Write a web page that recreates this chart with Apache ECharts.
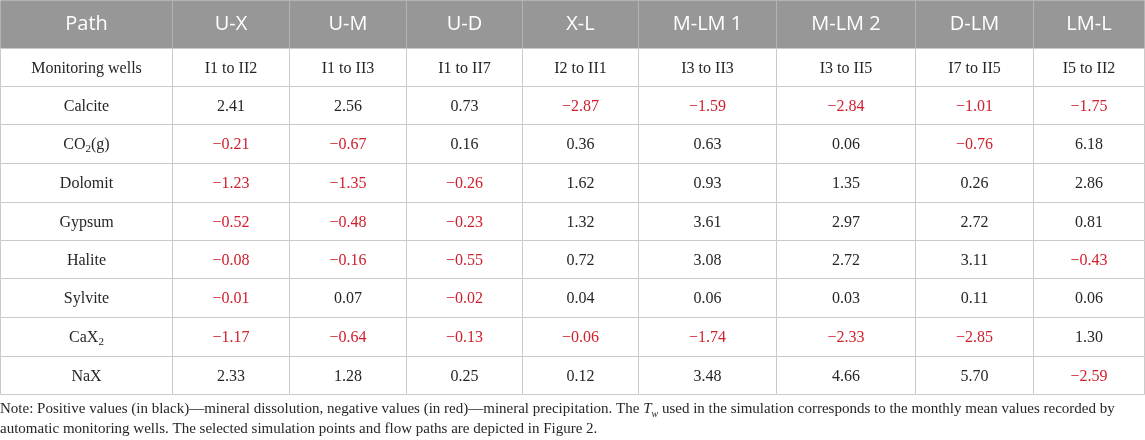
<!DOCTYPE html>
<html>
<head>
<meta charset="utf-8">
<script src="https://cdn.jsdelivr.net/npm/echarts@6/dist/echarts.min.js"></script>
<style>
    html, body { margin: 0; padding: 0; background: #fff; }
    #main { width: 1145px; height: 440px; }
</style>
</head>
<body>
<div id="main"></div>
<script>
// table content
var paths = ['U-X', 'U-M', 'U-D', 'X-L', 'M-LM 1', 'M-LM 2', 'D-LM', 'LM-L'];
var wells = ['I1 to II2', 'I1 to II3', 'I1 to II7', 'I2 to II1', 'I3 to II3', 'I3 to II5', 'I7 to II5', 'I5 to II2'];
var minerals = ['Calcite', 'CO{sub|2}(g)', 'Dolomit', 'Gypsum', 'Halite', 'Sylvite', 'CaX{sub|2}', 'NaX'];

var calcite = [2.41, 2.56, 0.73, -2.87, -1.59, -2.84, -1.01, -1.75];
var co2g = [-0.21, -0.67, 0.16, 0.36, 0.63, 0.06, -0.76, 6.18];
var dolomit = [-1.23, -1.35, -0.26, 1.62, 0.93, 1.35, 0.26, 2.86];
var gypsum = [-0.52, -0.48, -0.23, 1.32, 3.61, 2.97, 2.72, 0.81];
var halite = [-0.08, -0.16, -0.55, 0.72, 3.08, 2.72, 3.11, -0.43];
var sylvite = [-0.01, 0.07, -0.02, 0.04, 0.06, 0.03, 0.11, 0.06];
var cax2 = [-1.17, -0.64, -0.13, -0.06, -1.74, -2.33, -2.85, 1.30];
var nax = [2.33, 1.28, 0.25, 0.12, 3.48, 4.66, 5.70, -2.59];

var mineralRows = [calcite, co2g, dolomit, gypsum, halite, sylvite, cax2, nax];

// layout of the table (relative sizes)
var colWidths = [172, 117, 117, 116, 116, 138, 139, 118, 111];
var rowHeights = [48, 38, 38, 39, 39, 38, 38, 39, 39, 38];

var colEdges = [0];
colWidths.forEach(function (w, i) { colEdges.push(colEdges[i] + w); });
var rowEdges = [0];
rowHeights.forEach(function (h, i) { rowEdges.push(rowEdges[i] + h); });

var fmt = function (v) {
    var s = Math.abs(v).toFixed(2);
    return v < 0 ? '{neg|\u2212' + s + '}' : s;
};

// build cells: [col, row] + text
var cells = [];
var cellTexts = [];
var addCell = function (col, row, text) {
    cells.push([col, row]);
    cellTexts.push(text);
};
addCell(0, 0, 'Path');
paths.forEach(function (p, i) { addCell(i + 1, 0, p); });
addCell(0, 1, 'Monitoring wells');
wells.forEach(function (w, i) { addCell(i + 1, 1, w); });
minerals.forEach(function (m, r) {
    addCell(0, r + 2, m);
    mineralRows[r].forEach(function (v, i) { addCell(i + 1, r + 2, fmt(v)); });
});

var serif = '"Liberation Serif", "DejaVu Serif", serif';
var ink = '#262626';

function renderCell(params, api) {
    var col = api.value(0);
    var row = api.value(1);
    var p0 = api.coord([colEdges[col], rowEdges[row]]);
    var p1 = api.coord([colEdges[col + 1], rowEdges[row + 1]]);
    var x = Math.round(p0[0]) + 0.5;
    var y = Math.round(p0[1]) + 0.5;
    var w = Math.round(p1[0]) - Math.round(p0[0]);
    var h = Math.round(p1[1]) - Math.round(p0[1]);
    var isHead = row === 0;
    return {
        type: 'group',
        children: [{
            type: 'rect',
            shape: { x: x, y: y, width: w, height: h },
            style: {
                fill: isHead ? '#979797' : '#ffffff',
                stroke: isHead ? '#b3b3b3' : '#cacaca',
                lineWidth: 1
            }
        }, {
            type: 'text',
            z2: 10,
            style: {
                text: cellTexts[params.dataIndex],
                x: x + w / 2,
                y: y + h / 2 + (isHead ? 0 : 1),
                align: 'center',
                verticalAlign: 'middle',
                fill: isHead ? '#ffffff' : ink,
                fontFamily: isHead ? '"Open Sans", "Noto Sans", sans-serif' : serif,
                fontSize: isHead ? 20 : 16,
                rich: {
                    neg: { fill: '#d0202e', color: '#d0202e', fontFamily: serif, fontSize: 16 },
                    sub: { fontFamily: serif, fontSize: 11, padding: [8, 0, 0, 0], fill: ink, color: ink }
                }
            }
        }]
    };
}

var chart = echarts.init(document.getElementById('main'));
chart.setOption({
    animation: false,
    title: {
        left: 0,
        top: 399,
        padding: 0,
        text: 'Note: Positive values (in black)\u2014mineral dissolution, negative values (in red)\u2014mineral precipitation. The {it|T}{itsub|w} used in the simulation corresponds to the monthly mean values recorded by\nautomatic monitoring wells. The selected simulation points and flow paths are depicted in Figure 2.',
        textStyle: {
            fontFamily: serif,
            fontSize: 15,
            fontWeight: 'normal',
            color: ink,
            lineHeight: 20,
            rich: {
                it: { fontFamily: serif, fontSize: 15, fontStyle: 'italic', color: ink, lineHeight: 20 },
                itsub: { fontFamily: serif, fontSize: 10, fontStyle: 'italic', color: ink, lineHeight: 8, verticalAlign: 'bottom' }
            }
        }
    },
    grid: { left: 0, right: 1, top: 0, bottom: 46 },
    xAxis: { type: 'value', min: 0, max: colEdges[colEdges.length - 1], show: false },
    yAxis: { type: 'value', min: 0, max: rowEdges[rowEdges.length - 1], inverse: true, show: false },
    series: [{
        type: 'custom',
        renderItem: renderCell,
        data: cells,
        clip: false
    }]
});
</script>
</body>
</html>
